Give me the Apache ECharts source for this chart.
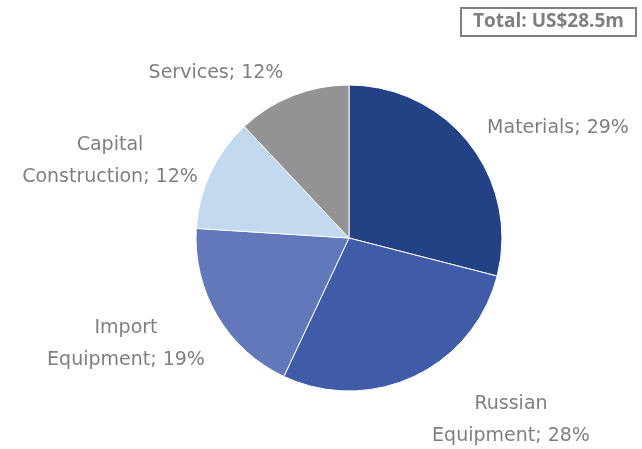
<!DOCTYPE html>
<html>
<head>
<meta charset="utf-8">
<script src="https://cdn.jsdelivr.net/npm/echarts@6/dist/echarts.min.js"></script>
<style>
  html, body { margin: 0; padding: 0; background: #fff; }
  #chart { width: 642px; height: 449px; }
</style>
</head>
<body>
<div id="chart"></div>
<script>
// spend by category, share of total (%)
const categories = ["Materials", "Russian Equipment", "Import Equipment", "Capital Construction", "Services"];
const shares = [29, 28, 19, 12, 12];
const sliceColors = ["#234185", "#405BA8", "#6278BB", "#C3D9EF", "#939396"];
const totalLabel = "Total: US$28.5m";

// where each label block sits (centre), like the original slide
const labelSpots = [
  [558, 128],
  [511, 420],
  [126, 344],
  [110, 161],
  [216, 73],
];

const chart = echarts.init(document.getElementById("chart"), null, { renderer: "canvas" });

const option = {
  backgroundColor: "#fff",
  animation: false,
  title: {
    text: totalLabel,
    right: 6,
    top: 8,
    padding: [2, 12, 2, 12],
    borderColor: "#7f7f7f",
    borderWidth: 2,
    textStyle: {
      color: "#7f7f7f",
      fontFamily: "Open Sans",
      fontWeight: "bold",
      fontSize: 19,
      lineHeight: 24,
    },
  },
  series: [
    {
      type: "pie",
      center: [349, 238],
      radius: 153,
      startAngle: 90,
      clockwise: true,
      data: categories.map((name, i) => ({
        name: name,
        value: shares[i],
        itemStyle: { color: sliceColors[i] },
      })),
      itemStyle: { borderColor: "#fff", borderWidth: 1 },
      label: {
        show: true,
        position: "outside",
        color: "#7f7f7f",
        fontFamily: "DejaVu Sans",
        fontSize: 19,
        lineHeight: 32,
        overflow: "none",
        formatter: (p) => p.name.replace(" ", "\n") + "; " + p.percent + "%",
      },
      labelLine: { show: false },
      labelLayout: (params) => ({
        x: labelSpots[params.dataIndex][0],
        y: labelSpots[params.dataIndex][1],
        align: "center",
        verticalAlign: "middle",
        hideOverlap: false,
      }),
    },
  ],
};

chart.setOption(option);
</script>
</body>
</html>
